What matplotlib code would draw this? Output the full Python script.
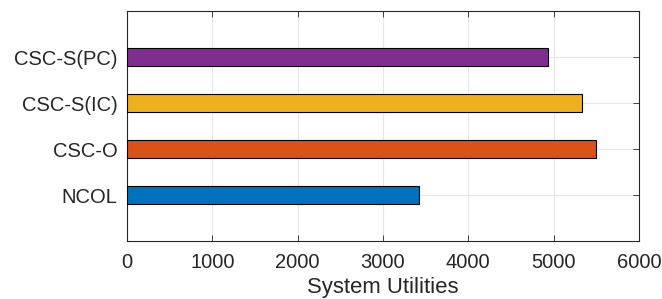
import numpy as np
import matplotlib
matplotlib.use('Agg')
import matplotlib.pyplot as plt

plt.rcParams['font.family'] = ['Liberation Sans', 'DejaVu Sans']

categories = ['NCOL', 'CSC-O', 'CSC-S(IC)', 'CSC-S(PC)']
utilities = [3420, 5500, 5335, 4930]
colors = ['#0072BD', '#D95319', '#EDB120', '#7E2F8E']

fig = plt.figure(figsize=(6.62, 2.99), dpi=100)
ax = fig.add_axes([0.192, 0.194, 0.773, 0.769])

pos = np.arange(1, len(categories) + 1)
ax.barh(pos, utilities, height=0.4, color=colors, edgecolor='black', linewidth=0.8, zorder=3)

ax.set_xlim(0, 6000)
ax.set_ylim(0, 5)
ax.set_xticks(np.arange(0, 6001, 1000))
ax.set_yticks(pos)
ax.set_yticklabels(categories)
ax.set_xlabel('System Utilities', fontsize=15.9, color='#262626', labelpad=3)

ax.grid(True, color='#e6e6e6', linewidth=0.8, zorder=0)
ax.tick_params(direction='in', length=4, width=0.6, labelsize=14.5, colors='#262626',
               top=True, right=True, pad=7)
ax.tick_params(axis='x', pad=9)
for s in ax.spines.values():
    s.set_color('#262626')
    s.set_linewidth(0.8)

fig.savefig('out.png', dpi=100)
